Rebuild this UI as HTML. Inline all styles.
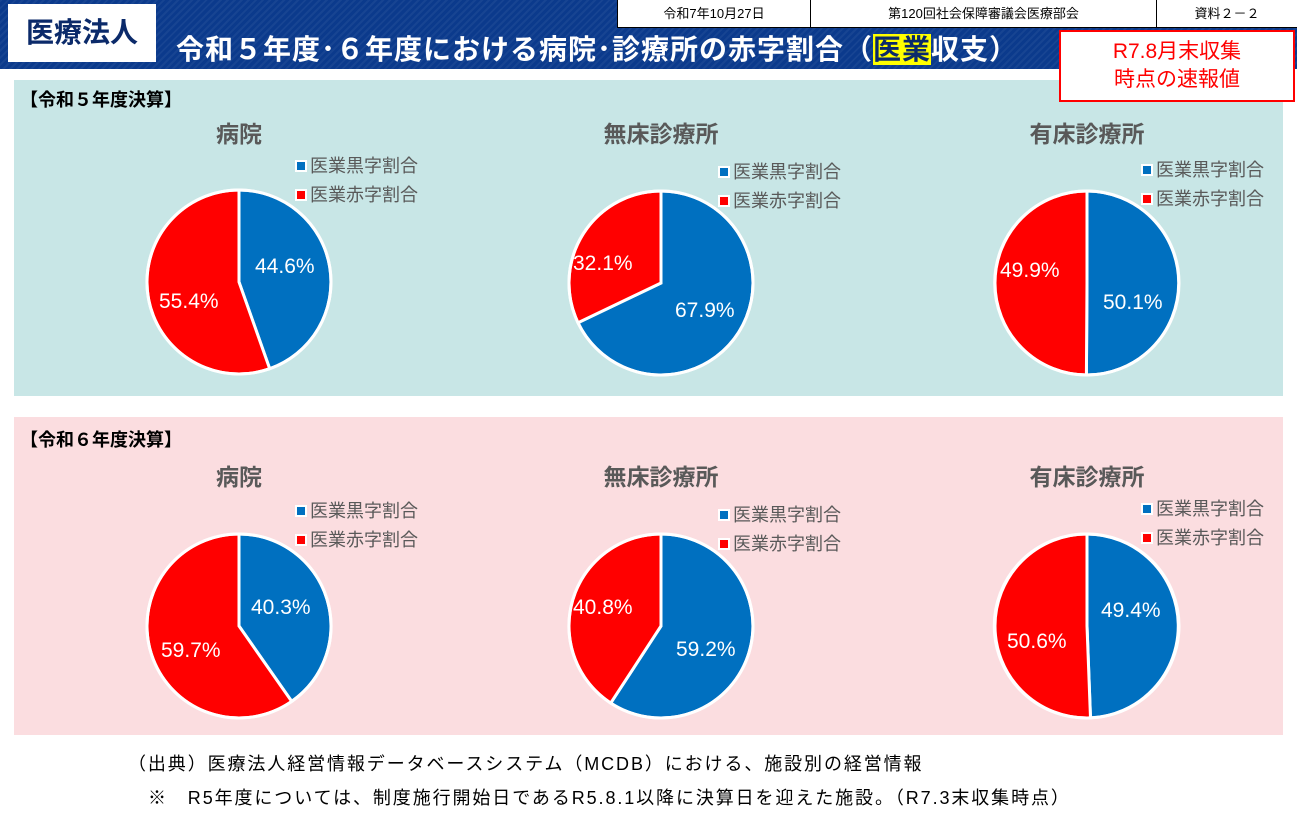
<!DOCTYPE html>
<html><head><meta charset="utf-8"><style>
body{margin:0;width:1297px;height:821px;background:#fff;font-family:"Liberation Sans","Noto Sans CJK JP",sans-serif;overflow:hidden;position:relative}
.a{position:absolute}
</style></head><body>
<div class="a" style="left:0;top:0;width:1297px;height:69px;background:#0b3a8c;background-image:repeating-linear-gradient(135deg,rgba(255,255,255,0.05) 0 2px,transparent 2px 5px)"></div>
<div class="a" style="left:8px;top:4px;width:148px;height:58px;background:#fff;font-weight:bold;font-size:28px;line-height:58px;text-align:center;color:#0b2a6a">医療法人</div>
<div class="a" style="left:176px;top:30px;font-size:28px;font-weight:bold;color:#fff;line-height:40px;letter-spacing:1px">令和５年度･６年度における病院･診療所の赤字割合（<span style="background:#ffff00;color:#0b2a6a">医業</span>収支）</div>
<div class="a" style="left:617px;top:0;width:680px;height:27px;background:#fff;border-left:1px solid #000;border-bottom:1px solid #000;font-size:13px;color:#000">
<div class="a" style="left:0;width:192px;top:0;line-height:27px;text-align:center;border-right:1px solid #000;height:27px">令和7年10月27日</div>
<div class="a" style="left:193px;width:345px;top:0;line-height:27px;text-align:center;border-right:1px solid #000;height:27px">第120回社会保障審議会医療部会</div>
<div class="a" style="left:539px;width:140px;top:0;line-height:27px;text-align:center">資料２－２</div></div>
<div class="a" style="left:14px;top:80px;width:1269px;height:316px;background:#c8e6e6"></div>
<div class="a" style="left:14px;top:417px;width:1269px;height:318px;background:#fbdde0"></div>
<div class="a" style="left:1059px;top:30px;width:236px;height:72px;background:#fff;border:2px solid #ff0000;color:#ff0000;font-size:21px;line-height:28px;text-align:center;padding-top:6px;box-sizing:border-box">R7.8月末収集<br>時点の速報値</div>
<div class="a" style="left:20px;top:86px;font-size:18px;font-weight:bold;color:#000">【令和５年度決算】</div>
<div class="a" style="left:20px;top:426px;font-size:18px;font-weight:bold;color:#000">【令和６年度決算】</div>
<div class="a" style="left:128px;top:750px;font-size:18px;letter-spacing:1.9px;color:#000;white-space:nowrap">（出典）医療法人経営情報データベースシステム（MCDB）における、施設別の経営情報</div>
<div class="a" style="left:148px;top:784px;font-size:18px;letter-spacing:1.9px;color:#000;white-space:nowrap">※　R5年度については、制度施行開始日であるR5.8.1以降に決算日を迎えた施設。（R7.3末収集時点）</div>
<svg class="a" style="left:0;top:0" width="1297" height="821" font-family="Liberation Sans, Noto Sans CJK JP, sans-serif">
<g font-size="23" font-weight="bold" fill="#595959" text-anchor="middle">
<text x="239" y="142">病院</text><text x="661" y="142">無床診療所</text><text x="1087" y="142">有床診療所</text>
<text x="239" y="485">病院</text><text x="661" y="485">無床診療所</text><text x="1087" y="485">有床診療所</text>
</g>
<g font-size="18" fill="#595959">
<g transform="translate(296,166)"><rect x="0" y="-5" width="10" height="10" fill="#0070c0" stroke="#fff" stroke-width="2"/><text x="14" y="6">医業黒字割合</text><rect x="0" y="24" width="10" height="10" fill="#f00" stroke="#fff" stroke-width="2"/><text x="14" y="35">医業赤字割合</text></g>
<g transform="translate(719,172)"><rect x="0" y="-5" width="10" height="10" fill="#0070c0" stroke="#fff" stroke-width="2"/><text x="14" y="6">医業黒字割合</text><rect x="0" y="24" width="10" height="10" fill="#f00" stroke="#fff" stroke-width="2"/><text x="14" y="35">医業赤字割合</text></g>
<g transform="translate(1142,170)"><rect x="0" y="-5" width="10" height="10" fill="#0070c0" stroke="#fff" stroke-width="2"/><text x="14" y="6">医業黒字割合</text><rect x="0" y="24" width="10" height="10" fill="#f00" stroke="#fff" stroke-width="2"/><text x="14" y="35">医業赤字割合</text></g>
<g transform="translate(296,511)"><rect x="0" y="-5" width="10" height="10" fill="#0070c0" stroke="#fff" stroke-width="2"/><text x="14" y="6">医業黒字割合</text><rect x="0" y="24" width="10" height="10" fill="#f00" stroke="#fff" stroke-width="2"/><text x="14" y="35">医業赤字割合</text></g>
<g transform="translate(719,515)"><rect x="0" y="-5" width="10" height="10" fill="#0070c0" stroke="#fff" stroke-width="2"/><text x="14" y="6">医業黒字割合</text><rect x="0" y="24" width="10" height="10" fill="#f00" stroke="#fff" stroke-width="2"/><text x="14" y="35">医業赤字割合</text></g>
<g transform="translate(1142,509)"><rect x="0" y="-5" width="10" height="10" fill="#0070c0" stroke="#fff" stroke-width="2"/><text x="14" y="6">医業黒字割合</text><rect x="0" y="24" width="10" height="10" fill="#f00" stroke="#fff" stroke-width="2"/><text x="14" y="35">医業赤字割合</text></g>
</g>
<g stroke="#fff" stroke-width="3" font-size="21" fill="#fff">
<g transform="translate(239,282)"><path d="M0,0L0,-92A92,92 0 0 1 30.7,86.7Z" fill="#0070c0"/><path d="M0,0L30.7,86.7A92,92 0 1 1 0,-92Z" fill="#f00"/><g stroke="none"><text x="16" y="-9">44.6%</text><text x="-80" y="26">55.4%</text></g></g>
<g transform="translate(661,283)"><path d="M0,0L0,-92A92,92 0 1 1 -83,39.7Z" fill="#0070c0"/><path d="M0,0L-83,39.7A92,92 0 0 1 0,-92Z" fill="#f00"/><g stroke="none"><text x="14" y="34">67.9%</text><text x="-88" y="-13">32.1%</text></g></g>
<g transform="translate(1087,283)"><path d="M0,0L0,-92A92,92 0 1 1 -0.6,92Z" fill="#0070c0"/><path d="M0,0L-0.6,92A92,92 0 0 1 0,-92Z" fill="#f00"/><g stroke="none"><text x="16" y="26">50.1%</text><text x="-87" y="-6">49.9%</text></g></g>
<g transform="translate(239,626)"><path d="M0,0L0,-92A92,92 0 0 1 52.7,75.4Z" fill="#0070c0"/><path d="M0,0L52.7,75.4A92,92 0 1 1 0,-92Z" fill="#f00"/><g stroke="none"><text x="12" y="-12">40.3%</text><text x="-78" y="31">59.7%</text></g></g>
<g transform="translate(661,626)"><path d="M0,0L0,-92A92,92 0 1 1 -50.3,77.1Z" fill="#0070c0"/><path d="M0,0L-50.3,77.1A92,92 0 0 1 0,-92Z" fill="#f00"/><g stroke="none"><text x="15" y="30">59.2%</text><text x="-88" y="-12">40.8%</text></g></g>
<g transform="translate(1087,626)"><path d="M0,0L0,-92A92,92 0 0 1 3.5,91.9Z" fill="#0070c0"/><path d="M0,0L3.5,91.9A92,92 0 1 1 0,-92Z" fill="#f00"/><g stroke="none"><text x="14" y="-9">49.4%</text><text x="-80" y="22">50.6%</text></g></g>
<g fill="none"><circle cx="239" cy="282" r="92"/><circle cx="661" cy="283" r="92"/><circle cx="1087" cy="283" r="92"/><circle cx="239" cy="626" r="92"/><circle cx="661" cy="626" r="92"/><circle cx="1087" cy="626" r="92"/></g>
</g>
</svg>
</body></html>
